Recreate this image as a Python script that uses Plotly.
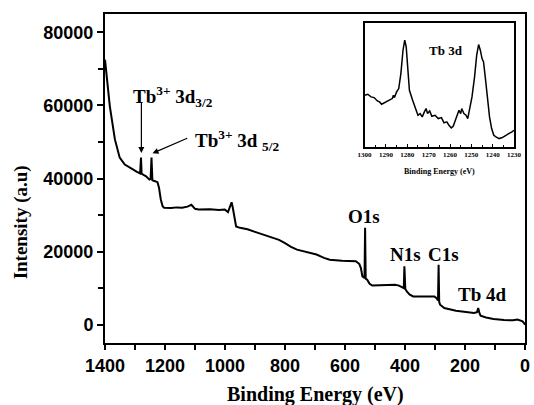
import plotly.graph_objects as go

# Main survey spectrum (binding energy eV, intensity a.u.)
energy = [1400, 1395, 1384, 1367, 1351, 1334, 1320, 1307, 1295, 1288, 1283, 1280, 1278, 1270, 1263,
          1252, 1248, 1245, 1242, 1235, 1225, 1220, 1214, 1208, 1203, 1180, 1160, 1143, 1125, 1112,
          1100, 1088, 1050, 1020, 1001, 990, 982, 978, 974, 970, 963, 950, 925, 900, 870, 850, 820,
          800, 780, 760, 730, 695, 670, 651, 610, 580, 564, 552, 547, 542, 535, 533, 531, 526, 518,
          509, 470, 433, 420, 411, 404, 402, 399, 394, 385, 373, 340, 302, 294, 290, 288, 286, 283,
          275, 269, 230, 200, 170, 160, 156, 152, 148, 130, 105, 70, 40, 25, 17, 8, 2, 0]
intensity = [72500, 68000, 59800, 50700, 45700, 43800, 43000, 42500, 41900, 41600, 41400, 45700, 41300,
             40900, 40600, 39700, 39900, 45700, 39500, 39300, 39000, 37500, 34250, 32400, 32000, 31900,
             32100, 32000, 32300, 32800, 31700, 31500, 31600, 31400, 31500, 30800, 32500, 33500, 32000,
             30000, 26900, 26500, 26100, 25400, 24600, 24000, 23200, 22300, 21300, 20550, 19900, 19200,
             18300, 17800, 17500, 17400, 17350, 16600, 15500, 13200, 12800, 26500, 12600, 12300, 11200,
             10700, 10800, 10960, 10700, 10200, 10000, 16000, 9800, 9100, 8300, 7750, 7800, 7750, 7200,
             6600, 16400, 6200, 5480, 4900, 4570, 3800, 3500, 3200, 3400, 4570, 3200, 2470, 2000, 1560,
             1300, 1200, 1400, 1100, 900, 300, 0]

# Inset: Tb 3d region (arbitrary units)
inset_energy = [1300, 1298.5, 1297, 1295.5, 1294, 1293, 1292, 1291, 1290, 1289, 1288, 1287, 1286.5, 1286,
                1285, 1284, 1283, 1282, 1281.2, 1280.5, 1280, 1279, 1277.5, 1276, 1275, 1274, 1273, 1272,
                1271.2, 1270.5, 1269.5, 1268.5, 1267, 1265.5, 1264, 1262.8, 1261.5, 1260.5, 1259.4,
                1258.5, 1257.5, 1256.5, 1255.8, 1255, 1254.5, 1253.5, 1252.5, 1251.7, 1250.5, 1249.7,
                1248.5, 1247.5, 1246.6, 1245.8, 1245, 1244.3, 1243.5, 1242.5, 1241.5, 1240.5, 1239.5,
                1238.5, 1237, 1235.5, 1234, 1232.5, 1231, 1230]
inset_signal = [155, 158, 150, 148, 138, 135, 128, 132, 135, 138, 142, 145, 155, 148,
                165, 175, 220, 290, 320, 300, 250, 170, 140, 110, 95, 100, 90, 105,
                115, 100, 108, 92, 95, 85, 88, 72, 75, 65, 57,
                62, 80, 95, 110, 100, 115, 100, 95, 85, 120, 150,
                210, 275, 307, 290, 265, 255, 210, 140, 90, 55, 35,
                30, 25, 28, 35, 40, 45, 50]

x_ticks = [1400, 1200, 1000, 800, 600, 400, 200, 0]
x_labels = ["1400", "1200", "1000", "800", "600", "400", "200", "0"]
y_ticks = [0, 20000, 40000, 60000, 80000]
y_labels = ["0", "20000", "40000", "60000", "80000"]
inset_ticks = [1300, 1290, 1280, 1270, 1260, 1250, 1240, 1230]
inset_labels = ["1300", "1290", "1280", "1270", "1260", "1250", "1240", "1230"]

SANS = "Liberation Sans, Arial, sans-serif"
SERIF = "Liberation Serif, Times New Roman, serif"

fig = go.Figure()
fig.add_trace(go.Scatter(x=energy, y=intensity, mode="lines",
                         line=dict(color="black", width=2), xaxis="x", yaxis="y",
                         showlegend=False, hoverinfo="skip"))
fig.add_trace(go.Scatter(x=inset_energy, y=inset_signal, mode="lines",
                         line=dict(color="black", width=1.5), xaxis="x2", yaxis="y2",
                         showlegend=False, hoverinfo="skip"))

fig.update_layout(
    width=534, height=405, autosize=False,
    margin=dict(l=105, r=2, t=14, b=62),
    paper_bgcolor="white", plot_bgcolor="white",
    xaxis=dict(range=[1400, 0], tickvals=x_ticks, ticktext=x_labels, showgrid=False, zeroline=False,
               showline=True, linecolor="black", linewidth=2, mirror=True,
               ticks="outside", ticklen=5, tickwidth=2, tickcolor="black",
               minor=dict(dtick=100, ticks="outside", ticklen=5, tickwidth=2, tickcolor="black"),
               tickfont=dict(family=SANS, size=18, color="black", weight="bold")),
    yaxis=dict(range=[-5000, 85000], tickvals=y_ticks, ticktext=y_labels, showgrid=False, zeroline=False,
               showline=True, linecolor="black", linewidth=2, mirror=True,
               ticks="outside", ticklen=6, tickwidth=2, tickcolor="black",
               minor=dict(dtick=10000, ticks="outside", ticklen=5, tickwidth=2, tickcolor="black"),
               tickfont=dict(family=SANS, size=18, color="black", weight="bold")),
    xaxis2=dict(domain=[0.618, 0.974], anchor="y2", range=[1300, 1230], tickvals=inset_ticks,
                ticktext=inset_labels,
                showgrid=False, zeroline=False, showline=True, linecolor="black", linewidth=2,
                mirror=True, ticks="inside", ticklen=3, tickwidth=1, tickcolor="black",
                minor=dict(dtick=5, ticks="inside", ticklen=2, tickwidth=1, tickcolor="black"),
                tickfont=dict(family=SERIF, size=7, color="black", weight="bold")),
    yaxis2=dict(domain=[0.596, 0.973], anchor="x2", range=[0, 372], showticklabels=False,
                showgrid=False, zeroline=False, showline=True, linecolor="black", linewidth=2,
                mirror=True, ticks=""),
)

ann_font = dict(family=SERIF, size=19, color="black", weight="bold")
annotations = [
    dict(text="Intensity (a.u)", xref="paper", yref="paper", x=-0.199, y=0.368, textangle=-90,
         showarrow=False, font=dict(family=SERIF, size=19, color="black", weight="bold"),
         xanchor="center", yanchor="middle"),
    dict(text="Binding Energy (eV)", xref="paper", yref="paper", x=0.5, y=-0.158,
         showarrow=False, font=dict(family=SERIF, size=20, color="black", weight="bold"),
         xanchor="center", yanchor="middle"),
    dict(text="O1s", x=538, y=29700, showarrow=False, font=ann_font, xanchor="center", yanchor="middle"),
    dict(text="N1s", x=397, y=19200, showarrow=False, font=ann_font, xanchor="center", yanchor="middle"),
    dict(text="C1s", x=272, y=19200, showarrow=False, font=ann_font, xanchor="center", yanchor="middle"),
    dict(text="Tb 4d", x=145, y=8200, showarrow=False, font=ann_font, xanchor="center", yanchor="middle"),
    dict(text="Tb<sup>3+</sup> 3d<sub>3/2</sub>", x=1312, y=62500, showarrow=False,
         font=dict(family=SERIF, size=19, color="black", weight="bold"), xanchor="left", yanchor="middle"),
    dict(text="Tb<sup>3+</sup> 3d <sub>5/2</sub>", x=1108, y=50500, showarrow=False,
         font=dict(family=SERIF, size=19, color="black", weight="bold"), xanchor="left", yanchor="middle"),
    dict(text="", x=1278.7, y=47000, ax=1278.7, ay=61200, axref="x", ayref="y",
         showarrow=True, arrowhead=2, arrowsize=1, arrowwidth=1.2, arrowcolor="black"),
    dict(text="", x=1241.6, y=46900, ax=1121, ay=51200, axref="x", ayref="y",
         showarrow=True, arrowhead=2, arrowsize=1, arrowwidth=1.2, arrowcolor="black"),
    dict(text="Tb 3d", x=1262, y=290, xref="x2", yref="y2", showarrow=False,
         font=dict(family=SERIF, size=13, color="black", weight="bold"), xanchor="center", yanchor="middle"),
    dict(text="Binding Energy (eV)", xref="paper", yref="paper", x=0.796, y=0.520, showarrow=False,
         font=dict(family=SERIF, size=8, color="black", weight="bold"), xanchor="center", yanchor="middle"),
]
fig.update_layout(annotations=annotations)

fig.write_html("out.html")
